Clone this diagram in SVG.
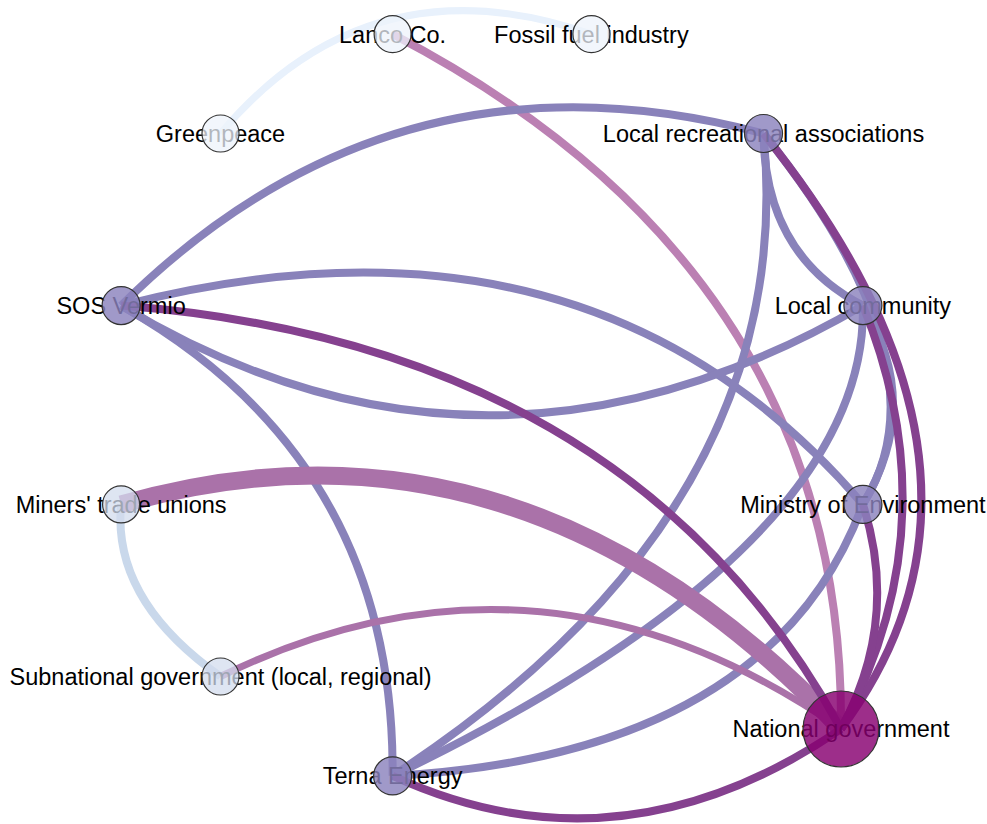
<svg xmlns="http://www.w3.org/2000/svg" width="987" height="824" viewBox="0 0 987 824">
<style>
.e{fill:none;stroke-linecap:butt}
.bp{stroke:#8982ba;stroke-width:8}
.dp{stroke:#85418f;stroke-width:8}
.pk{stroke:#aa72a9}
.lp{stroke:#bb80b3;stroke-width:8}
.lb{stroke:#c9d8eb;stroke-width:8}
.vl{stroke:#e8f1fc;stroke-width:7}
text{font-family:"Liberation Sans",Arial,sans-serif;font-size:23.5px;fill:#000;text-anchor:middle}
circle{stroke:#333;stroke-width:1.2}
.n1{fill:#edf3fb;fill-opacity:.75}
.n2{fill:#d3dcee;fill-opacity:.75}
.n3{fill:#8b82bd;fill-opacity:.82}
.n4{fill:#870070;fill-opacity:.82}
</style>
<rect width="987" height="824" fill="#fff"/>
<g id="connectors">
<path id="e-greenpeace-fossil" class="e vl" d="M220.5,133.5 Q369,-43 591.4,34.1"/>
<path id="e-lanco-national" class="e lp" d="M392.6,34.1 Q845,270 841,729"/>
<path id="e-sos-localrec" class="e bp" d="M121.1,305.6 Q394,35 763.5,133.5"/>
<path id="e-sos-ministry" class="e bp" d="M121.1,305.6 Q590,185 862.9,504.4"/>
<path id="e-sos-localcomm" class="e bp" d="M121.1,305.6 Q485,525 862.9,305.6"/>
<path id="e-sos-terna" class="e bp" d="M121.1,305.6 Q395,460 392.6,775.9"/>
<path id="e-localrec-localcomm" class="e bp" d="M763.5,133.5 Q765,255 862.9,305.6"/>
<path id="e-localrec-ministry" class="e bp" stroke-width="10" d="M763.5,133.5 Q950,366 862.9,504.4"/>
<path id="e-localcomm-ministry" class="e bp" d="M862.9,305.6 Q923,404 862.9,504.4"/>
<path id="e-terna-localrec" class="e bp" d="M392.6,775.9 Q800,510 763.5,133.5"/>
<path id="e-terna-localcomm" class="e bp" d="M392.6,775.9 Q868,546 862.9,305.6"/>
<path id="e-terna-ministry" class="e bp" d="M392.6,775.9 Q770,755 862.9,504.4"/>
<path id="e-miners-subnational" class="e lb" d="M121.1,504.4 Q112,600 220.5,676.5"/>
<path id="e-miners-national" class="e pk" stroke-width="18" d="M121.1,504.4 Q520,390 841,729"/>
<path id="e-subnational-national" class="e pk" stroke-width="7" d="M220.5,676.5 Q540,520 841,729"/>
<path id="e-sos-national" class="e dp" d="M121.1,305.6 Q630,345 841,729"/>
<path id="e-terna-national" class="e dp" d="M392.6,775.9 Q620,880 841,729"/>
<path id="e-localrec-national" class="e dp" d="M763.5,133.5 Q1034,470 841,729"/>
<path id="e-localcomm-national" class="e dp" d="M862.9,305.6 Q952,524 841,729"/>
<path id="e-ministry-national" class="e dp" d="M862.9,504.4 Q900,620 841,729"/>
</g>
<g id="n-lanco"><text x="392.6" y="42.5">Lanco Co.</text><circle class="n1" cx="392.6" cy="34.1" r="18.5"/></g>
<g id="n-fossil"><text x="591.4" y="42.5">Fossil fuel industry</text><circle class="n1" cx="591.4" cy="34.1" r="18.5"/></g>
<g id="n-greenpeace"><text x="220.5" y="141.9">Greenpeace</text><circle class="n1" cx="220.5" cy="133.5" r="18.5"/></g>
<g id="n-localrec"><text x="763.5" y="141.9">Local recreational associations</text><circle class="n3" cx="763.5" cy="133.5" r="19"/></g>
<g id="n-sos"><text x="121.1" y="314">SOS Vermio</text><circle class="n3" cx="121.1" cy="305.6" r="19"/></g>
<g id="n-localcomm"><text x="862.9" y="314">Local community</text><circle class="n3" cx="862.9" cy="305.6" r="19"/></g>
<g id="n-miners"><text x="121.1" y="512.8">Miners' trade unions</text><circle class="n2" cx="121.1" cy="504.4" r="18.5"/></g>
<g id="n-ministry"><text x="862.9" y="512.8">Ministry of Environment</text><circle class="n3" cx="862.9" cy="504.4" r="19"/></g>
<g id="n-subnational"><text x="220.5" y="684.9">Subnational government (local, regional)</text><circle class="n2" cx="220.5" cy="676.5" r="18.5"/></g>
<g id="n-terna"><text x="392.6" y="784.3">Terna Energy</text><circle class="n3" cx="392.6" cy="775.9" r="19"/></g>
<g id="n-national"><text x="841" y="737.4">National government</text><circle class="n4" cx="841" cy="729" r="38"/></g>
</svg>
